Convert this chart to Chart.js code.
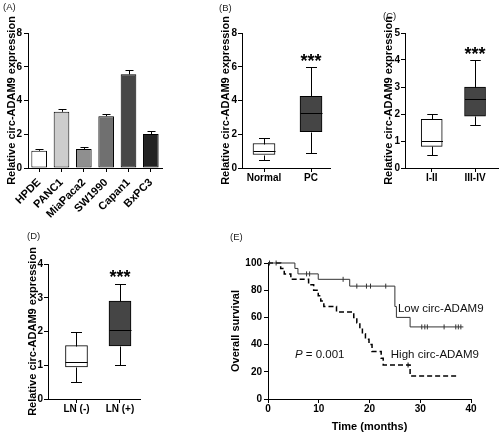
<!DOCTYPE html>
<html><head><meta charset="utf-8">
<script src="https://cdn.jsdelivr.net/npm/chart.js@4.4.0/dist/chart.umd.min.js"></script>
<style>
html,body{margin:0;padding:0;background:#fff;}
#root{position:relative;width:500px;height:434px;overflow:hidden;background:#fff;font-family:'Liberation Sans',Arial,sans-serif;}
.panel{position:absolute;}
.lbl{position:absolute;font-size:9.5px;line-height:1;color:#222;}
</style></head><body>
<div id="root">
  <div class="panel" style="left:0px;top:0px;width:170px;height:220px"><canvas id="cA"></canvas></div>
  <div class="panel" style="left:170px;top:0px;width:165px;height:220px"><canvas id="cB"></canvas></div>
  <div class="panel" style="left:330px;top:0px;width:170px;height:220px"><canvas id="cC"></canvas></div>
  <div class="panel" style="left:0px;top:220px;width:180px;height:214px"><canvas id="cD"></canvas></div>
  <div class="panel" style="left:180px;top:220px;width:320px;height:214px"><canvas id="cE"></canvas></div>
  <div class="lbl" style="left:3px;top:1.5px">(A)</div>
  <div class="lbl" style="left:219px;top:2.5px">(B)</div>
  <div class="lbl" style="left:383px;top:11px">(C)</div>
  <div class="lbl" style="left:27px;top:231px">(D)</div>
  <div class="lbl" style="left:230px;top:232px">(E)</div>
</div>
<script>
// ---------- DATA ----------
// (A) cell lines
const catsA = ['HPDE', 'PANC1', 'MiaPaca2', 'SW1990', 'Capan1', 'BxPC3'];
const meanA = [1.02, 3.33, 1.13, 3.07, 5.55, 2.01];
const errA  = [0.1, 0.17, 0.1, 0.15, 0.27, 0.18];
// (B) Normal vs PC
const catsB = ['Normal', 'PC'];
const minB = [0.5, 0.9];
const q1B  = [0.8, 2.15];
const medB = [1.0, 3.25];
const q3B  = [1.45, 4.25];
const maxB = [1.8, 6.0];
// (C) stage
const catsC = ['I-II', 'III-IV'];
const minC = [0.5, 1.6];
const q1C  = [0.8, 1.92];
const medC = [1.0, 2.55];
const q3C  = [1.8, 3.0];
const maxC = [2.0, 4.0];
// (D) lymph node
const catsD = ['LN (-)', 'LN (+)'];
const minD = [0.5, 1.0];
const q1D  = [0.95, 1.57];
const medD = [1.1, 2.05];
const q3D  = [1.58, 2.9];
const maxD = [2.0, 3.4];
// (E) Kaplan-Meier
const lowTime  = [0, 5.3, 5.9, 9.9, 16.1, 25.0, 25.3, 28.0, 38.5];
const lowSurv  = [100, 96, 92, 88, 83, 68, 60, 53, 53];
const highTime = [0, 2.5, 3.2, 4.5, 8.0, 9.0, 9.9, 10.4, 11.0, 13.5, 16.9, 17.5, 18.1, 18.6, 19.2, 19.9, 20.5, 22.3, 22.7, 28.0, 37.5];
const highSurv = [100, 96, 92, 88, 84, 80, 76, 72, 68, 64, 60, 56, 52, 48, 44, 40, 35, 30, 25, 17, 17];
const lowCensorTime = [0.3, 1.6, 7.6, 8.2, 14.8, 17.5, 19.4, 20.2, 23.2, 30.3, 30.9, 31.4, 34.7, 37.0, 37.5, 38.0];
const lowCensorSurv = [100, 100, 92, 92, 88, 83, 83, 83, 83, 53, 53, 53, 53, 53, 53, 53];
const highCensorTime = [27.6];
const highCensorSurv = [25];

// ---------- STYLE ----------
const FONT = "'Liberation Sans', Arial, sans-serif";
Chart.defaults.font.family = FONT;
Chart.defaults.color = '#000';
const barColorsA = ['#ffffff', '#cdcdcd', '#8f8f8f', '#707070', '#474747', '#232323'];

const errPlugin = {
  id: 'errBars',
  afterDatasetsDraw(chart, args, opts) {
    const ctx = chart.ctx, y = chart.scales.y;
    const vals = chart.data.datasets[0].data;
    const meta = chart.getDatasetMeta(0);
    ctx.save(); ctx.strokeStyle = '#000'; ctx.lineWidth = 1;
    meta.data.forEach((bar, i) => {
      const cx = Math.round(bar.x) + 0.5;
      const top = Math.round(y.getPixelForValue(vals[i] + opts.errs[i])) + 0.5;
      const base = y.getPixelForValue(vals[i]);
      ctx.beginPath();
      ctx.moveTo(cx, base); ctx.lineTo(cx, top);
      ctx.moveTo(cx - opts.cap, top); ctx.lineTo(cx + opts.cap, top);
      ctx.stroke();
    });
    ctx.restore();
  }
};

const boxPlugin = {
  id: 'boxWhisker',
  afterDatasetsDraw(chart, args, opts) {
    const ctx = chart.ctx, x = chart.scales.x, y = chart.scales.y;
    const meta = chart.getDatasetMeta(0);
    ctx.save(); ctx.strokeStyle = '#000'; ctx.lineWidth = 1;
    opts.mins.forEach((mn, i) => {
      const cx = Math.round(x.getPixelForValue(i)) + 0.5;
      const half = meta.data[i].width / 2;
      const cap = half * 0.5;
      const py = v => Math.round(y.getPixelForValue(v)) + 0.5;
      ctx.beginPath();
      ctx.moveTo(cx, py(opts.q1s[i])); ctx.lineTo(cx, py(mn));
      ctx.moveTo(cx - cap, py(mn)); ctx.lineTo(cx + cap, py(mn));
      ctx.moveTo(cx, py(opts.q3s[i])); ctx.lineTo(cx, py(opts.maxs[i]));
      ctx.moveTo(cx - cap, py(opts.maxs[i])); ctx.lineTo(cx + cap, py(opts.maxs[i]));
      ctx.moveTo(cx - half, py(opts.meds[i])); ctx.lineTo(cx + half, py(opts.meds[i]));
      ctx.stroke();
    });
    if (opts.star) {
      ctx.fillStyle = '#000';
      ctx.font = 'bold 18px ' + FONT;
      ctx.textAlign = 'center'; ctx.textBaseline = 'alphabetic';
      ctx.fillText(opts.star.text, x.getPixelForValue(opts.star.x), y.getPixelForValue(opts.star.y) + 10);
    }
    ctx.restore();
  }
};

const notePlugin = {
  id: 'notes',
  afterDatasetsDraw(chart, args, opts) {
    const ctx = chart.ctx, x = chart.scales.x, y = chart.scales.y;
    ctx.save(); ctx.fillStyle = '#111'; ctx.textBaseline = 'middle'; ctx.textAlign = 'left';
    opts.items.forEach(it => {
      let px = x.getPixelForValue(it.x); const pyv = y.getPixelForValue(it.y);
      if (it.italic) {
        ctx.font = 'italic 11.5px ' + FONT;
        ctx.fillText(it.italic, px, pyv);
        px += ctx.measureText(it.italic).width;
      }
      ctx.font = '11.5px ' + FONT;
      ctx.fillText(it.text, px, pyv);
    });
    ctx.restore();
  }
};

function yAxis(min, max, step, title, w, titlePad, tickPad) {
  return {
    min, max,
    ticks: { stepSize: step, padding: tickPad, color: '#000', font: { size: 10, weight: 'bold' } },
    grid: { display: true, drawOnChartArea: false, drawTicks: true, tickLength: 4, color: '#000' },
    border: { display: true, color: '#000', width: 1 },
    title: { display: true, text: title, color: '#000', font: { size: 11, weight: 'bold' }, padding: { top: titlePad, bottom: 0 } },
    afterFit(s) { s.width = w; }
  };
}
function xBoxAxis(cats, min, max, h, tickPad) {
  return {
    type: 'linear', min, max, offset: false,
    afterBuildTicks(s) { s.ticks = cats.map((c, i) => ({ value: i })); },
    ticks: { autoSkip: false, padding: tickPad, color: '#000', font: { size: 10, weight: 'bold' }, maxRotation: 0, minRotation: 0,
             callback: v => cats[v] },
    grid: { display: true, offset: false, drawOnChartArea: false, tickLength: 4, color: '#000' },
    border: { display: true, color: '#000', width: 1 },
    afterFit(s) { s.height = h; }
  };
}
const baseOpts = { animation: false, responsive: true, maintainAspectRatio: false, devicePixelRatio: 1 };

// ---------- (A) ----------
new Chart(document.getElementById('cA'), {
  type: 'bar',
  data: { labels: catsA, datasets: [{ data: meanA, backgroundColor: barColorsA, borderColor: '#000', borderWidth: 1,
          borderSkipped: false, barPercentage: 0.7, categoryPercentage: 1 }] },
  options: Object.assign({}, baseOpts, {
    layout: { padding: { left: 0, top: 33, right: 8, bottom: 0 } },
    plugins: { legend: { display: false }, tooltip: { enabled: false }, errBars: { errs: errA, cap: 4 } },
    scales: {
      x: { ticks: { minRotation: 45, maxRotation: 45, autoSkip: false, padding: 4, color: '#000', font: { size: 11, weight: 'bold' } },
           grid: { display: true, offset: false, drawOnChartArea: false, tickLength: 4, color: '#000' },
           border: { display: true, color: '#000', width: 1 },
           afterFit(s) { s.height = 52; } },
      y: yAxis(0, 8, 2, 'Relative circ-ADAM9 expression', 28, 5.4, 2)
    }
  }),
  plugins: [errPlugin]
});

function boxChart(id, cats, mins, q1s, meds, q3s, maxs, fills, xmin, xmax, ymax, ystep, pad, yW, titlePad, xH, thick, star) {
  new Chart(document.getElementById(id), {
    type: 'bar',
    data: { datasets: [{ data: cats.map((c, i) => ({ x: i, y: [q1s[i], q3s[i]] })), backgroundColor: fills,
            borderColor: '#000', borderWidth: 1, borderSkipped: false, barThickness: thick }] },
    options: Object.assign({}, baseOpts, {
      layout: { padding: pad },
      plugins: { legend: { display: false }, tooltip: { enabled: false },
                 boxWhisker: { mins, q1s, meds, q3s, maxs, star } },
      scales: { x: xBoxAxis(cats, xmin, xmax, xH, 0), y: yAxis(0, ymax, ystep, 'Relative circ-ADAM9 expression', yW, titlePad, 1) }
    }),
    plugins: [boxPlugin]
  });
}
boxChart('cB', catsB, minB, q1B, medB, q3B, maxB, ['#ffffff', '#454545'], -0.468, 1.404, 8, 2,
  { left: 40, top: 33, right: 5, bottom: 0 }, 32, 8.9, 52, 22, { x: 1, y: 6.58, text: '***' });
boxChart('cC', catsC, minC, q1C, medC, q3C, maxC, ['#ffffff', '#454545'], -0.617, 1.53, 5, 1,
  { left: 45, top: 33, right: 2, bottom: 0 }, 30, 7.4, 52, 21, { x: 1, y: 4.37, text: '***' });
boxChart('cD', catsD, minD, q1D, medD, q3D, maxD, ['#ffffff', '#454545'], -0.655, 1.46, 4, 1,
  { left: 0, top: 44, right: 40, bottom: 0 }, 48, 26.4, 35, 22, { x: 1, y: 3.74, text: '***' });

// ---------- (E) ----------
const pts = (xs, ys) => xs.map((t, i) => ({ x: t, y: ys[i] }));
new Chart(document.getElementById('cE'), {
  type: 'line',
  data: { datasets: [
    { data: pts(lowTime, lowSurv), stepped: true, borderColor: '#333', borderWidth: 1, pointRadius: 0, fill: false, clip: 6 },
    { data: pts(highTime, highSurv), stepped: true, borderColor: '#000', borderWidth: 1.5, borderDash: [5, 3], pointRadius: 0, fill: false, clip: 6 },
    { type: 'scatter', data: pts(lowCensorTime, lowCensorSurv), pointStyle: 'line', rotation: 90, radius: 2.5, borderColor: '#333', borderWidth: 1, showLine: false, clip: 6 },
    { type: 'scatter', data: pts(highCensorTime, highCensorSurv), pointStyle: 'line', rotation: 90, radius: 2.5, borderColor: '#000', borderWidth: 1, showLine: false, clip: 6 }
  ] },
  options: Object.assign({}, baseOpts, {
    layout: { padding: { left: 40, top: 43, right: 29, bottom: 0 } },
    plugins: { legend: { display: false }, tooltip: { enabled: false },
      notes: { items: [
        { x: 25.6, y: 66.3, text: 'Low circ-ADAM9' },
        { x: 24.2, y: 32.4, text: 'High circ-ADAM9' },
        { x: 5.3, y: 32.4, italic: 'P', text: ' = 0.001' }
      ] } },
    scales: {
      x: { type: 'linear', min: 0, max: 40,
           ticks: { stepSize: 10, padding: 0, color: '#000', font: { size: 10, weight: 'bold' } },
           grid: { display: true, drawOnChartArea: false, tickLength: 4, color: '#000' },
           border: { display: true, color: '#000', width: 1 },
           title: { display: true, text: 'Time (months)', color: '#000', font: { size: 11, weight: 'bold' }, padding: { top: 0, bottom: 0.7 } },
           afterFit(s) { s.height = 35; } },
      y: yAxis(0, 100, 20, 'Overall survival', 48, 9.4, 2)
    }
  }),
  plugins: [notePlugin]
});
</script>
</body></html>
